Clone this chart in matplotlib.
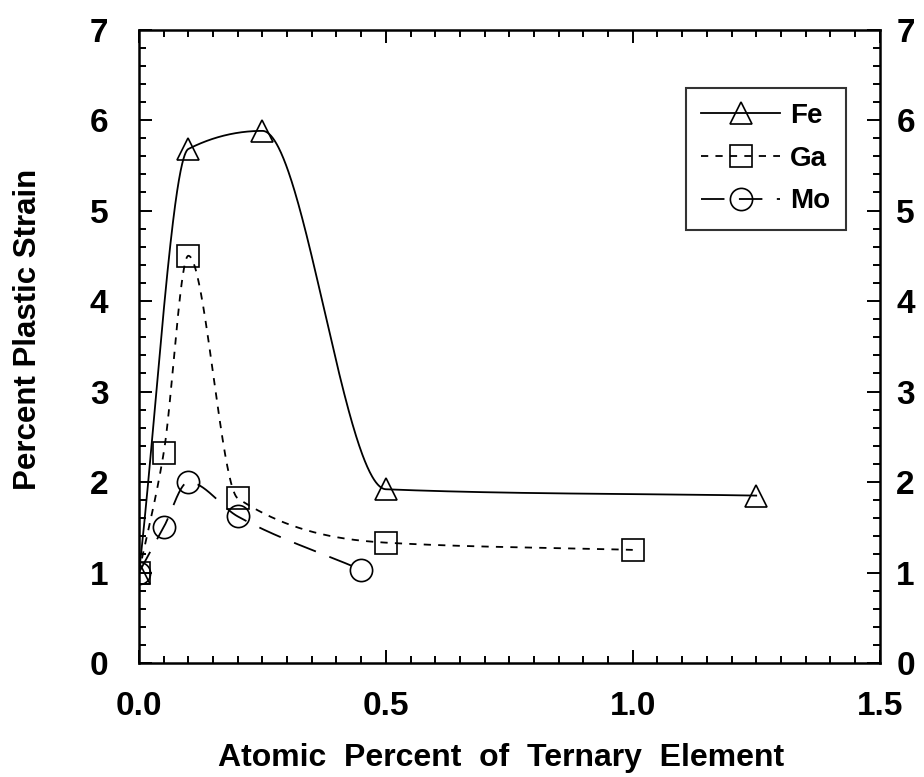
import matplotlib
matplotlib.use('Agg')
import matplotlib.pyplot as plt
from matplotlib.ticker import MultipleLocator
from matplotlib.transforms import ScaledTranslation
import numpy as np

# values
fe_x = [0.0, 0.1, 0.25, 0.5, 1.25]
fe_y = [1.0, 5.68, 5.88, 1.92, 1.85]
ga_x = [0.0, 0.05, 0.1, 0.2, 0.5, 1.0]
ga_y = [1.0, 2.32, 4.5, 1.82, 1.33, 1.25]
mo_x = [0.0, 0.05, 0.1, 0.2, 0.45]
mo_y = [1.0, 1.5, 2.0, 1.62, 1.03]

x_ticks = [0.0, 0.5, 1.0, 1.5]
x_tick_labels = ['0.0', '0.5', '1.0', '1.5']
y_ticks = [0, 1, 2, 3, 4, 5, 6, 7]

FONT = 'Liberation Sans'


def smooth(x, y, n=200):
    # monotone cubic (Fritsch-Carlson) through the data points, for drawing the line only
    x = np.asarray(x, float)
    y = np.asarray(y, float)
    h = np.diff(x)
    d = np.diff(y) / h
    m = np.zeros(len(x))
    m[0], m[-1] = d[0], d[-1]
    for k in range(1, len(x) - 1):
        if d[k - 1] * d[k] <= 0:
            m[k] = 0.0
        else:
            w1 = 2 * h[k] + h[k - 1]
            w2 = h[k] + 2 * h[k - 1]
            m[k] = (w1 + w2) / (w1 / d[k - 1] + w2 / d[k])
    xs, ys = [], []
    for k in range(len(x) - 1):
        t = np.linspace(0, 1, n)
        h00 = 2 * t**3 - 3 * t**2 + 1
        h10 = t**3 - 2 * t**2 + t
        h01 = -2 * t**3 + 3 * t**2
        h11 = t**3 - t**2
        xs.append(x[k] + t * h[k])
        ys.append(h00 * y[k] + h10 * h[k] * m[k] + h01 * y[k + 1] + h11 * h[k] * m[k + 1])
    return np.concatenate(xs), np.concatenate(ys)


fig = plt.figure(figsize=(9.24, 7.77), dpi=100)
ax = fig.add_axes([0.1504, 0.1467, 0.8016, 0.8153])

mk = dict(markersize=16, markerfacecolor='none', markeredgecolor='black', markeredgewidth=1.2)

sx, sy = smooth(fe_x, fe_y)
ax.plot(sx, sy, color='black', lw=1.3, ls='-')
ax.plot(fe_x, fe_y, ls='none', marker='^', **mk)

sx, sy = smooth(ga_x, ga_y)
ax.plot(sx, sy, color='black', lw=1.3, dashes=(4, 4))
ax.plot(ga_x, ga_y, ls='none', marker='s', **mk)

sx, sy = smooth(mo_x, mo_y)
ax.plot(sx, sy, color='black', lw=1.3, dashes=(13, 8))
ax.plot(mo_x, mo_y, ls='none', marker='o', **mk)

# legend handles
h_fe, = ax.plot([], [], color='black', lw=1.3, ls='-', marker='^', **mk)
h_ga, = ax.plot([], [], color='black', lw=1.3, dashes=(4, 4), marker='s', **mk)
h_mo, = ax.plot([], [], color='black', lw=1.3, dashes=(13, 8), marker='o', **mk)
leg = ax.legend([h_fe, h_ga, h_mo], ['Fe', 'Ga', 'Mo'], loc='upper right',
                bbox_to_anchor=(0.954, 0.908), borderaxespad=0, frameon=True,
                fancybox=False, edgecolor='black', handlelength=2.85,
                handletextpad=0.36, borderpad=0.55, labelspacing=0.6,
                prop={'family': FONT, 'weight': 'bold', 'size': 20})
leg.get_frame().set_linewidth(1.5)

ax.set_xlim(0, 1.5)
ax.set_ylim(0, 7)
ax.set_xticks(x_ticks)
ax.set_xticklabels(x_tick_labels)
ax.set_yticks(y_ticks)
ax.xaxis.set_minor_locator(MultipleLocator(0.05))
ax.yaxis.set_minor_locator(MultipleLocator(0.2))
ax.tick_params(which='both', direction='in', top=True, right=True, labelright=True,
               width=1.4, labelsize=24)
ax.tick_params(which='major', length=9.5)
ax.tick_params(which='minor', length=5)
ax.tick_params(axis='x', pad=20)
ax.tick_params(axis='y', pad=22)
for lab in ax.get_xticklabels() + ax.get_yticklabels():
    lab.set_family(FONT)
    lab.set_fontweight('bold')
for t in ax.yaxis.get_major_ticks():
    t.label2.set_family(FONT)
    t.label2.set_fontweight('bold')
for sp in ax.spines.values():
    sp.set_linewidth(1.8)

ax.set_xlabel('Atomic  Percent  of  Ternary  Element', family=FONT,
              fontweight='bold', fontsize=23)
ax.set_ylabel('Percent Plastic Strain', family=FONT,
              fontweight='bold', fontsize=22.5)
ax.xaxis.set_label_coords(0.4885, -0.126)
ax.yaxis.set_label_coords(-0.130, 0.526)

# right-hand labels sit closer to the axis than the left ones
fig.canvas.draw()
for t in ax.yaxis.get_major_ticks():
    lab = t.label2
    lab.set_transform(lab.get_transform() + ScaledTranslation(-10 / 72, 0, fig.dpi_scale_trans))

plt.savefig('out.png', dpi=100)
plt.close()
